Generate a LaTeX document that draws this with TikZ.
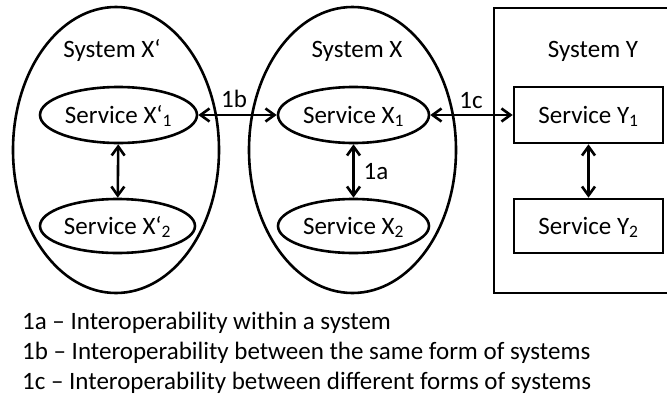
\documentclass[tikz,border=0pt]{standalone}
\usepackage{fontspec}
\setmainfont{Carlito}
\usetikzlibrary{shapes.geometric,arrows.meta}

\tikzset{
  txt/.style={font=\fontsize{25pt}{30pt}\selectfont, inner sep=0pt},
  system/.style={draw, line width=2.6pt, ellipse, inner sep=0pt},
  svc/.style={draw, line width=2.6pt, inner sep=0pt, txt,
              text height=16pt, text depth=0pt},
  svcoval/.style={svc, ellipse},
  svcbox/.style={svc, rectangle},
  link/.style={line width=2.6pt,
    {Straight Barb[length=9pt,width=13pt]}-{Straight Barb[length=9pt,width=13pt]}},
}

\begin{document}
\begin{tikzpicture}[x=1pt, y=-1pt]
  \path[use as bounding box] (0,0) rectangle (667,394);
  \clip (0,0) rectangle (667,394);

  % outer systems
  \node[system, minimum width=206pt, minimum height=286pt] (sysXp) at (116,150) {};
  \node[system, minimum width=207pt, minimum height=286pt] (sysX) at (352.5,150) {};
  \draw[line width=2.6pt] (494,8) coordinate (sysYnw) rectangle (700,293) coordinate (sysYse);

  \node[txt, anchor=base] (lblXp) at (112,57) {System X‘};
  \node[txt, anchor=base] (lblX)  at (357,57) {System X};
  \node[txt, anchor=base] (lblY)  at (593,57) {System Y};

  % services
  \node[svcoval, minimum width=157pt, minimum height=56pt] (xp1) at (118.5,115) {Service X‘\textsubscript{1}};
  \node[svcoval, minimum width=155pt, minimum height=54pt] (xp2) at (117.5,226) {Service X‘\textsubscript{2}};
  \node[svcoval, minimum width=151pt, minimum height=56pt] (x1) at (353.5,115) {Service X\textsubscript{1}};
  \node[svcoval, minimum width=151pt, minimum height=54pt] (x2) at (353.5,226) {Service X\textsubscript{2}};
  \node[svcbox, minimum width=149pt, minimum height=56pt] (y1) at (588.5,115) {Service Y\textsubscript{1}};
  \node[svcbox, minimum width=149pt, minimum height=54pt] (y2) at (588.5,226) {Service Y\textsubscript{2}};

  % interoperability links
  \draw[link] (xp1) -- (xp2);
  \draw[link] (x1) -- (x2);
  \draw[link] (y1) -- (y2);
  \draw[link] (xp1.east) -- (x1.west);
  \draw[link] (x1.east) -- (y1.west);

  \node[txt, anchor=base] (l1a) at (376,179) {1a};
  \node[txt, anchor=base] (l1b) at (234,107) {1b};
  \node[txt, anchor=base] (l1c) at (471,108) {1c};

  % legend
  \node[txt, anchor=base west] (leg1) at (22,329) {1a – Interoperability within a system};
  \node[txt, anchor=base west] (leg2) at (22,359) {1b – Interoperability between the same form of systems};
  \node[txt, anchor=base west] (leg3) at (22,389) {1c – Interoperability between different forms of systems};
\end{tikzpicture}
\end{document}
